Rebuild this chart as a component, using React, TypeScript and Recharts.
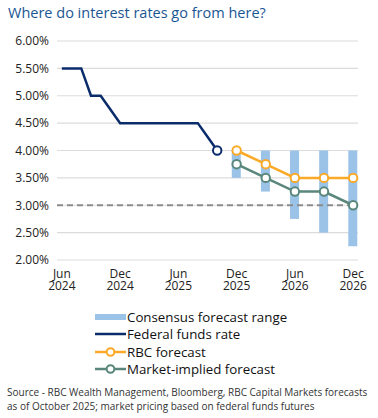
import React from "react"
import { Bar, CartesianGrid, ComposedChart, Line, ReferenceLine, XAxis, YAxis } from "recharts"

// months counted from Jun 2024
const fedMonths = [0, 1, 2, 3, 4, 5, 6, 7, 8, 9, 10, 11, 12, 13, 14, 15, 16]
const fedRate = [5.5, 5.5, 5.5, 5.0, 5.0, 4.75, 4.5, 4.5, 4.5, 4.5, 4.5, 4.5, 4.5, 4.5, 4.5, 4.25, 4.0]

const forecastMonths = [18, 21, 24, 27, 30]
const rbcForecast = [4.0, 3.75, 3.5, 3.5, 3.5]
const marketForecast = [3.75, 3.5, 3.25, 3.25, 3.0]
const consensusLow = [3.5, 3.25, 2.75, 2.5, 2.25]
const consensusHigh = [4.0, 4.0, 4.0, 4.0, 4.0]

const xTicks = [0, 6, 12, 18, 24, 30]
const xTickMonths = ["Jun", "Dec", "Jun", "Dec", "Jun", "Dec"]
const xTickYears = ["2024", "2024", "2025", "2025", "2026", "2026"]
const yTicks = [2, 2.5, 3, 3.5, 4, 4.5, 5, 5.5, 6]

const NAVY = "#0b2c6b"
const ORANGE = "#fbaa28"
const GREEN = "#5a877b"
const BLUE = "#9bc3e8"
const FONT = "'Open Sans', sans-serif"

const data = [
  ...fedMonths.map((m, i) => ({ m, fed: fedRate[i] })),
  ...forecastMonths.map((m, i) => ({
    m,
    rbc: rbcForecast[i],
    market: marketForecast[i],
    range: [consensusLow[i], consensusHigh[i]],
  })),
]

const XTick = (props: any) => {
  const { x, y, payload } = props
  const idx = xTicks.indexOf(payload.value)
  return (
    <g>
      <text x={x} y={y + 9.5} textAnchor="middle" fontSize={12} fill="#222" fontFamily={FONT}>
        {xTickMonths[idx]}
      </text>
      <text x={x} y={y + 21.5} textAnchor="middle" fontSize={12} fill="#222" fontFamily={FONT}>
        {xTickYears[idx]}
      </text>
    </g>
  )
}

const openDot = (color: string) => (props: any) => {
  const { cx, cy, key, value } = props
  if (value == null || cy == null) return <g key={key} />
  return <circle key={key} cx={cx} cy={cy} r={4.2} fill="#fff" stroke={color} strokeWidth={2} />
}

const fedDot = (props: any) => {
  const { cx, cy, index, key } = props
  if (index !== fedMonths.length - 1) return <g key={key} />
  return <circle key={key} cx={cx} cy={cy} r={4.2} fill="#fff" stroke={NAVY} strokeWidth={2} />
}

const LegendLine = ({ color, dot }: { color: string; dot?: boolean }) => (
  <svg width={32} height={12} style={{ display: "block" }}>
    <line x1={0} y1={6} x2={31} y2={6} stroke={color} strokeWidth={2.5} />
    {dot && <circle cx={15.5} cy={6} r={3.8} fill="#fff" stroke={color} strokeWidth={2} />}
  </svg>
)

export default function App() {
  const legendRow: React.CSSProperties = {
    display: "flex",
    alignItems: "center",
    height: 17.5,
    fontSize: 13.3,
    color: "#111",
  }
  return (
    <div style={{ position: "absolute", left: 0, top: 0, width: 378, height: 418, fontFamily: FONT, background: "#fff" }}>
      <div style={{ position: "absolute", left: 8, top: 3, fontSize: 14.5, color: "#1b5693", whiteSpace: "nowrap" }}>
        Where do interest rates go from here?
      </div>
      <div style={{ position: "absolute", left: 0, top: 0 }}>
        <ComposedChart width={378} height={300} data={data} margin={{ top: 41, right: 20, left: 7, bottom: 10 }}>
          <CartesianGrid horizontal vertical={false} stroke="#dcdcdc" strokeWidth={1.2} />
          <XAxis
            dataKey="m"
            type="number"
            domain={[-0.5, 30.5]}
            ticks={xTicks}
            interval={0}
            tick={<XTick />}
            axisLine={false}
            tickLine={false}
            height={30}
          />
          <YAxis
            type="number"
            domain={[2, 6]}
            ticks={yTicks}
            interval={0}
            width={50}
            axisLine={false}
            tickLine={false}
            tickFormatter={(v: number) => v.toFixed(2) + "%"}
            tick={{ fontSize: 12, fill: "#222", fontFamily: FONT }}
          />
          <ReferenceLine y={3} stroke="#8c8c8c" strokeWidth={2} strokeDasharray="6 4" />
          <Bar dataKey="range" fill={BLUE} barSize={9} isAnimationActive={false} />
          <Line
            dataKey="fed"
            stroke={NAVY}
            strokeWidth={2.5}
            dot={fedDot}
            activeDot={false}
            isAnimationActive={false}
          />
          <Line
            dataKey="rbc"
            stroke={ORANGE}
            strokeWidth={2.5}
            dot={openDot(ORANGE)}
            activeDot={false}
            isAnimationActive={false}
          />
          <Line
            dataKey="market"
            stroke={GREEN}
            strokeWidth={2.5}
            dot={openDot(GREEN)}
            activeDot={false}
            isAnimationActive={false}
          />
        </ComposedChart>
      </div>
      <div style={{ position: "absolute", left: 95, top: 308 }}>
        <div style={legendRow}>
          <div style={{ width: 31, height: 6, background: BLUE, marginRight: 1 }} />
          <span>Consensus forecast range</span>
        </div>
        <div style={legendRow}>
          <LegendLine color={NAVY} />
          <span>Federal funds rate</span>
        </div>
        <div style={legendRow}>
          <LegendLine color={ORANGE} dot />
          <span>RBC forecast</span>
        </div>
        <div style={legendRow}>
          <LegendLine color={GREEN} dot />
          <span>Market-implied forecast</span>
        </div>
      </div>
      <div style={{ position: "absolute", left: 7, top: 386, fontSize: 10, lineHeight: "13.5px", color: "#333", whiteSpace: "nowrap" }}>
        Source - RBC Wealth Management, Bloomberg, RBC Capital Markets forecasts
        <br />
        as of October 2025; market pricing based on federal funds futures
      </div>
    </div>
  )
}
